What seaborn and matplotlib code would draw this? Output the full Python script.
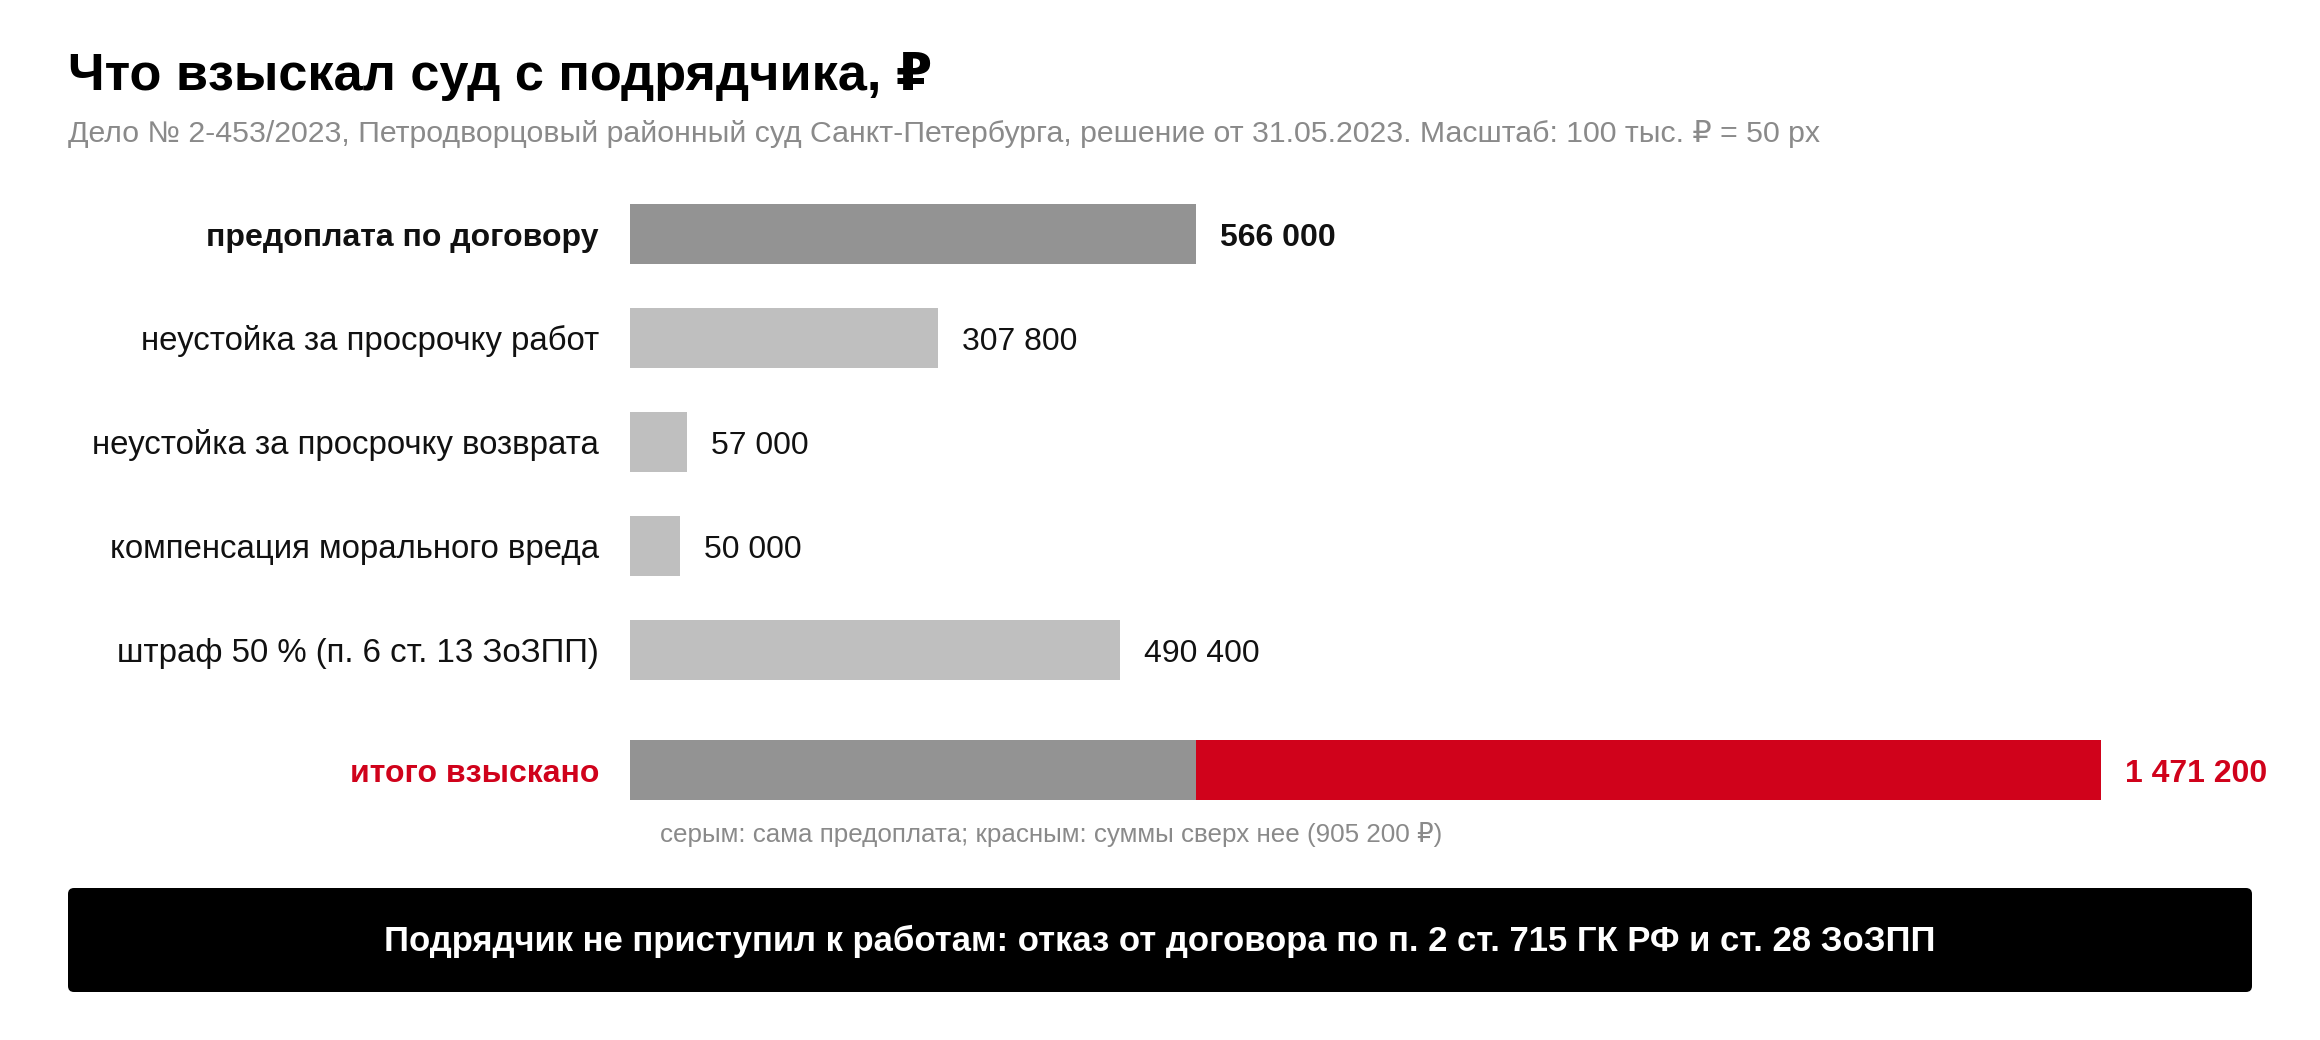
import numpy as np
import pandas as pd
import seaborn as sns
import matplotlib.pyplot as plt
from matplotlib.patches import FancyBboxPatch
from matplotlib.transforms import IdentityTransform

# data
categories = ['предоплата по договору', 'неустойка за просрочку работ',
              'неустойка за просрочку возврата', 'компенсация морального вреда',
              'штраф 50 % (п. 6 ст. 13 ЗоЗПП)']
amounts = [566000, 307800, 57000, 50000, 490400]
total_label = 'итого взыскано'
total = sum(amounts)
prepay = amounts[0]
extra = total - prepay

def fmt(v):
    return f'{v:,}'.replace(',', ' ')

DARK = '#939393'
LIGHT = '#bfbfbf'
RED = '#d0021b'
GRAY_TXT = '#8a8a8a'

sns.set_theme(style='white')
plt.rcParams['font.family'] = ['Liberation Sans', 'DejaVu Sans']

W, H = 2320, 1040
fig = plt.figure(figsize=(W / 72, H / 72), dpi=72)
ax = fig.add_axes([0, 0, 1, 1])

# layout in pixels: bars start at x=630, 100 000 rub = 100 px
x0 = 630
row_y = [234 + 104 * i for i in range(len(categories))]
total_y = 770
bar_h = 60

df = pd.DataFrame({'category': categories, 'amount': amounts, 'y': row_y})
palette = {c: (DARK if i == 0 else LIGHT) for i, c in enumerate(categories)}

sns.barplot(data=df, x='amount', y='y', hue='category', palette=palette, orient='h',
            native_scale=True, width=bar_h / 104, saturation=1, linewidth=0,
            legend=False, ax=ax)
# total bar: red full length, prepayment drawn over in gray
sns.barplot(x=[total], y=[total_y], orient='h', native_scale=True, width=bar_h,
            color=RED, saturation=1, linewidth=0, ax=ax)
sns.barplot(x=[prepay], y=[total_y], orient='h', native_scale=True, width=bar_h,
            color=DARK, saturation=1, linewidth=0, ax=ax)

ax.set_xlim(-x0 * 1000, (W - x0) * 1000)
ax.set_ylim(H, 0)
ax.axis('off')

def px(x):
    return (x - x0) * 1000

val_fs = 32
for i, (c, v, y) in enumerate(zip(categories, amounts, row_y)):
    w = 'bold' if i == 0 else 'normal'
    lab_fs = 32 if i == 0 else 33
    ax.text(px(599), y + 0.36 * val_fs, c, ha='right', va='baseline',
            fontsize=lab_fs, fontweight=w, color='#111111')
    ax.text(v + 24000, y + 0.36 * val_fs, fmt(v), ha='left', va='baseline',
            fontsize=val_fs, fontweight=w, color='#111111')

ax.text(px(599), total_y + 0.36 * val_fs, total_label, ha='right', va='baseline',
        fontsize=val_fs, fontweight='bold', color=RED)
ax.text(total + 24000, total_y + 0.36 * val_fs, fmt(total), ha='left', va='baseline',
        fontsize=val_fs, fontweight='bold', color=RED)

ax.text(px(660), 842, f'серым: сама предоплата; красным: суммы сверх нее ({fmt(extra)} ₽)',
        ha='left', va='baseline', fontsize=26, color=GRAY_TXT)

# title and subtitle
ax.text(px(68), 90, 'Что взыскал суд с подрядчика, ₽', ha='left', va='baseline',
        fontsize=52.3, fontweight='bold', color='black')
ax.text(px(68), 142, 'Дело № 2-453/2023, Петродворцовый районный суд Санкт-Петербурга, '
        'решение от 31.05.2023. Масштаб: 100 тыс. ₽ = 50 px',
        ha='left', va='baseline', fontsize=30.2, color=GRAY_TXT)

# black footer box
box = FancyBboxPatch((68, H - 992), 2252 - 68, 992 - 888,
                     boxstyle='round,pad=0,rounding_size=6',
                     facecolor='black', edgecolor='none', transform=IdentityTransform())
fig.patches.append(box)
fig.text(1160 / W, 1 - 951 / H,
         'Подрядчик не приступил к работам: отказ от договора по п. 2 ст. 715 ГК РФ и ст. 28 ЗоЗПП',
         ha='center', va='baseline', fontsize=34.6, fontweight='bold', color='white')

fig.savefig('out.png', dpi=72, facecolor='white')
